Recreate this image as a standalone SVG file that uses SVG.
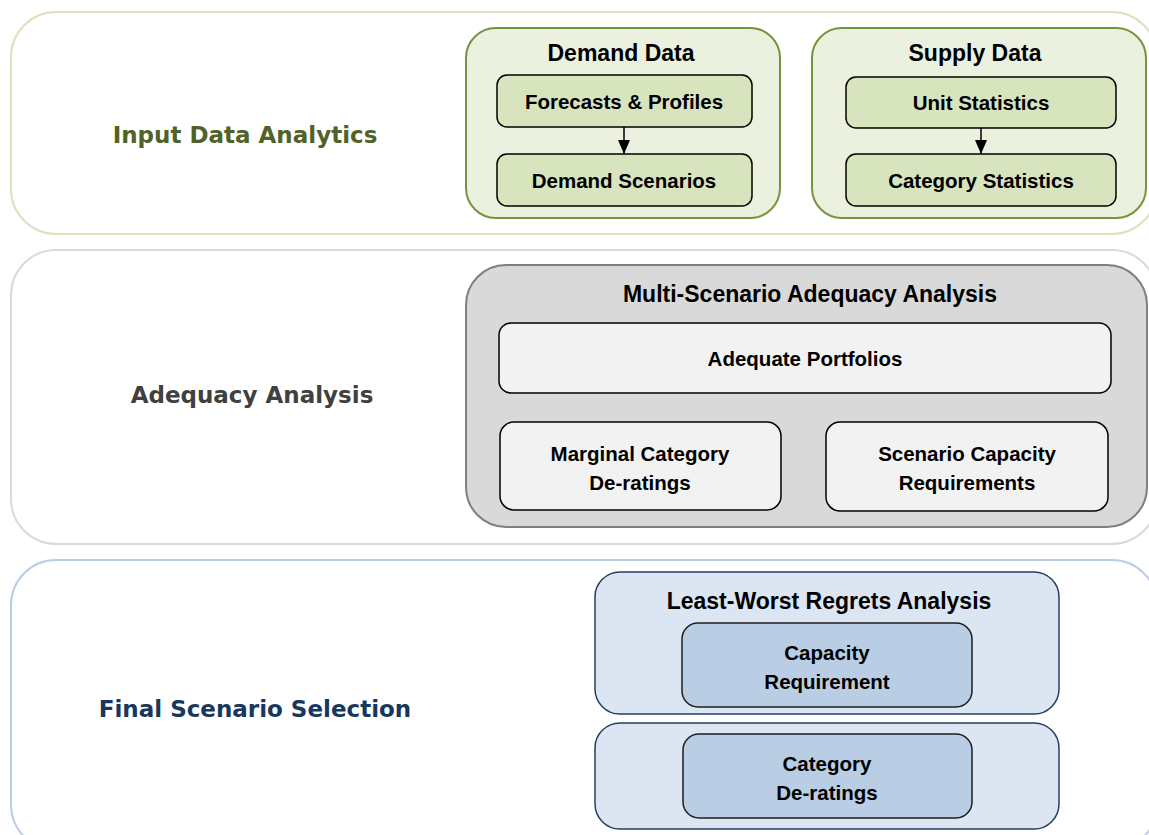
<svg xmlns="http://www.w3.org/2000/svg" width="1149" height="835" viewBox="0 0 1149 835">
<defs>
<marker id="arr" markerWidth="14" markerHeight="14" refX="14" refY="7" orient="auto" markerUnits="userSpaceOnUse">
<path d="M0,1 L14,7 L0,13 Z" fill="#000"/>
</marker>
<style>
.band{fill:#fff;stroke-width:2}
.lbl{font-family:"DejaVu Sans",Verdana,sans-serif;font-weight:bold;font-size:23px;text-anchor:middle}
.t{font-family:"Liberation Sans",Arial,sans-serif;font-weight:bold;font-size:20.5px;text-anchor:middle;fill:#000}
.h{font-size:23px}
.inner{stroke:#000;stroke-width:1.5}
.conn{stroke:#000;stroke-width:1.5;fill:none}
</style>
</defs>
<rect width="1149" height="835" fill="#fff"/>
<g id="band-input">
<rect class="band" x="11" y="12" width="1146" height="222" rx="45" stroke="#d7e4bd"/>
<text class="lbl" x="245" y="143" fill="#4f6228">Input Data Analytics</text>
</g>
<g id="band-adequacy">
<rect class="band" x="11" y="250" width="1146" height="294" rx="45" stroke="#d9d9d9"/>
<text class="lbl" x="252" y="403" fill="#404040">Adequacy Analysis</text>
</g>
<g id="band-final">
<rect class="band" x="11" y="560" width="1146" height="290" rx="45" stroke="#b9cde5"/>
<text class="lbl" x="255" y="717" fill="#17375e">Final Scenario Selection</text>
</g>
<g id="demand-data">
<rect x="466" y="28" width="314" height="190" rx="30" fill="#ebf1de" stroke="#77933c" stroke-width="2"/>
<text class="t h" x="621" y="61">Demand Data</text>
</g>
<g id="forecasts">
<rect class="inner" x="497" y="75" width="255" height="52" rx="10" fill="#d7e4bd"/>
<text class="t" x="624" y="109">Forecasts &amp; Profiles</text>
</g>
<g id="demand-scenarios">
<rect class="inner" x="497" y="154" width="255" height="52" rx="10" fill="#d7e4bd"/>
<text class="t" x="624" y="188">Demand Scenarios</text>
</g>
<g id="supply-data">
<rect x="812" y="28" width="334" height="190" rx="30" fill="#ebf1de" stroke="#77933c" stroke-width="2"/>
<text class="t h" x="975" y="61">Supply Data</text>
</g>
<g id="unit-stats">
<rect class="inner" x="846" y="77" width="270" height="51" rx="10" fill="#d7e4bd"/>
<text class="t" x="981" y="110">Unit Statistics</text>
</g>
<g id="category-stats">
<rect class="inner" x="846" y="154" width="270" height="52" rx="10" fill="#d7e4bd"/>
<text class="t" x="981" y="188">Category Statistics</text>
</g>
<g id="multi-scenario">
<rect x="466" y="265" width="681" height="262" rx="40" fill="#d9d9d9" stroke="#7f7f7f" stroke-width="2"/>
<text class="t h" x="810" y="302">Multi-Scenario Adequacy Analysis</text>
</g>
<g id="adequate-portfolios">
<rect class="inner" x="499" y="323" width="612" height="70" rx="12" fill="#f2f2f2"/>
<text class="t" x="805" y="366">Adequate Portfolios</text>
</g>
<g id="marginal-deratings">
<rect class="inner" x="500" y="422" width="281" height="88" rx="14" fill="#f2f2f2"/>
<text class="t" x="640" y="461">Marginal Category</text>
<text class="t" x="640" y="490">De-ratings</text>
</g>
<g id="scenario-capacity">
<rect class="inner" x="826" y="422" width="282" height="89" rx="14" fill="#f2f2f2"/>
<text class="t" x="967" y="461">Scenario Capacity</text>
<text class="t" x="967" y="490">Requirements</text>
</g>
<g id="least-worst">
<rect x="595" y="572" width="464" height="142" rx="25" fill="#dce6f2" stroke="#243f60" stroke-width="1.5"/>
<text class="t h" x="829" y="609">Least-Worst Regrets Analysis</text>
</g>
<g id="capacity-requirement">
<rect x="682" y="623" width="290" height="84" rx="16" fill="#b9cde5" stroke="#1c1c1c" stroke-width="1.5"/>
<text class="t" x="827" y="660">Capacity</text>
<text class="t" x="827" y="689">Requirement</text>
</g>
<g id="lower-container">
<rect x="595" y="723" width="464" height="106" rx="25" fill="#dce6f2" stroke="#243f60" stroke-width="1.5"/>
</g>
<g id="category-deratings">
<rect x="683" y="734" width="289" height="84" rx="16" fill="#b9cde5" stroke="#1c1c1c" stroke-width="1.5"/>
<text class="t" x="827" y="771">Category</text>
<text class="t" x="827" y="800">De-ratings</text>
</g>
<g id="connectors">
<line class="conn" x1="624" y1="127" x2="624" y2="154" marker-end="url(#arr)"/>
<line class="conn" x1="981" y1="128" x2="981" y2="154" marker-end="url(#arr)"/>
</g>
</svg>
